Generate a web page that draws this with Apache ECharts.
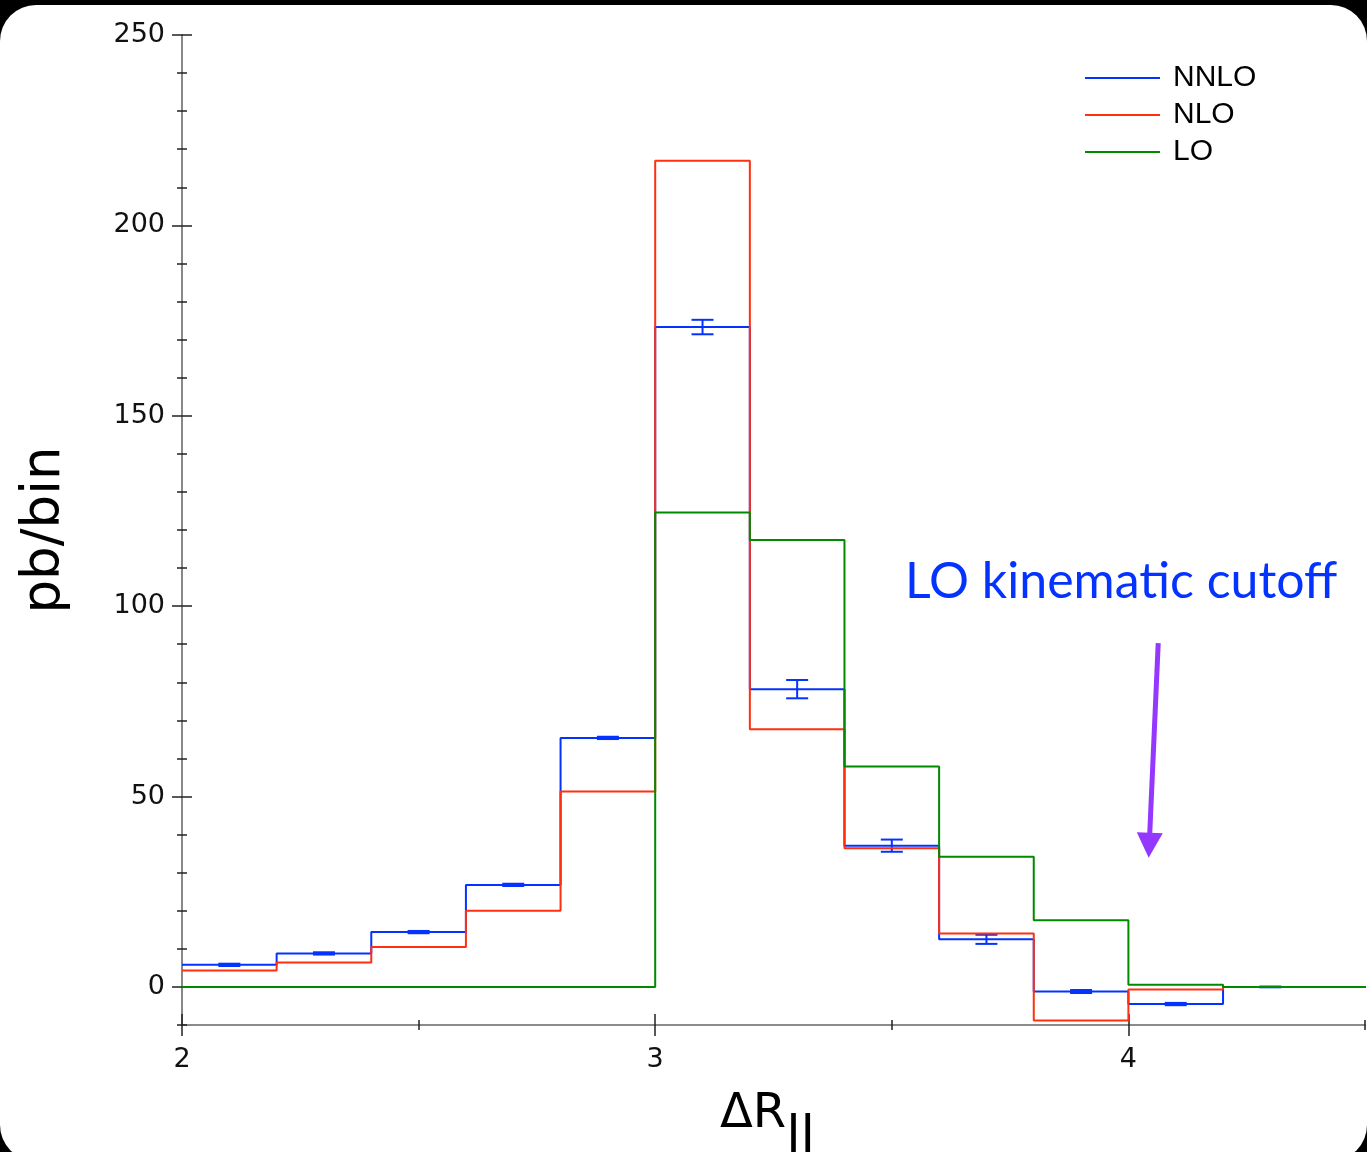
<!DOCTYPE html>
<html>
<head>
<meta charset="utf-8">
<title>ΔR_ll</title>
<script src="https://cdn.jsdelivr.net/npm/echarts@6/dist/echarts.min.js"></script>
<style>
html, body { margin: 0; padding: 0; background: #000; }
#card { position: absolute; left: 0; top: 5px; width: 1367px; height: 1156px; background: #fff; border-radius: 36px; }
#main { position: absolute; left: 0; top: 0; width: 1367px; height: 1152px; }
</style>
</head>
<body>
<div id="card"></div>
<div id="main"></div>
<script>
// bin edges (13 bins of width 0.2, last one runs past the axis end)
var binEdges = [2.0, 2.2, 2.4, 2.6, 2.8, 3.0, 3.2, 3.4, 3.6, 3.8, 4.0, 4.2, 4.4, 4.6];
var nnlo    = [5.8, 8.8, 14.4, 26.8, 65.4, 173.3, 78.2, 37.1, 12.5, -1.2, -4.5, 0, 0];
var nnloErr = [0.3, 0.3, 0.3, 0.3, 0.3, 1.9, 2.4, 1.6, 1.2, 0.4, 0.3, 0.1, 0];
var nlo     = [4.3, 6.4, 10.5, 20.0, 51.3, 217.0, 67.7, 36.4, 14.0, -8.8, -0.7, 0, 0];
var lo      = [0, 0, 0, 0, 0, 124.6, 117.4, 57.9, 34.2, 17.5, 0.6, 0, 0];

var xMajor = [2, 3, 4];
var xMinor = [2.5, 3.5, 4.5];
var yMajor = [0, 50, 100, 150, 200, 250];

// arrow annotation end points, in data units
var arrowFrom = [4.063, 90.3];
var arrowTo   = [4.044, 37.2];

function stepData(vals) {
    return binEdges.map(function (x, i) {
        return [x, i < vals.length ? vals[i] : vals[vals.length - 1]];
    });
}

var errData = [];
nnlo.forEach(function (v, i) {
    if (nnloErr[i] > 0) errData.push([(binEdges[i] + binEdges[i + 1]) / 2, v, nnloErr[i]]);
});

var BLUE = '#0433ff', RED = '#ff2f0f', GREEN = '#008a00';
var tickStyle = { color: '#222', width: 1.5 };

var myChart = echarts.init(document.getElementById('main'), null, { renderer: 'canvas' });
var option = {
    backgroundColor: 'transparent',
    animation: false,
    grid: { left: 182, right: 2, top: 35, bottom: 127, containLabel: false, outerBoundsMode: 'none' },
    legend: {
        data: ['NNLO', 'NLO', 'LO'],
        orient: 'vertical',
        left: 1080,
        top: 58,
        icon: 'rect',
        itemWidth: 75,
        itemHeight: 2,
        itemGap: 7,
        selectedMode: false,
        textStyle: { fontSize: 30, fontFamily: 'Liberation Sans', color: '#000', lineHeight: 30, padding: [0, 0, 0, 8] }
    },
    xAxis: [
        {
            type: 'value', min: 2, max: 4.5, position: 'bottom',
            axisLine: { show: true, onZero: false, lineStyle: { color: '#666', width: 1.5 } },
            axisTick: { show: false },
            splitLine: { show: false },
            axisLabel: { customValues: xMajor, fontSize: 27, fontFamily: 'DejaVu Sans', color: '#111', margin: 21 },
            name: '{d|ΔR}{s|ll}',
            nameLocation: 'middle',
            nameGap: 66,
            nameTextStyle: {
                padding: [0, 12, 0, 0],
                rich: {
                    d: { fontSize: 48, fontFamily: 'DejaVu Sans', color: '#000', lineHeight: 52, verticalAlign: 'top' },
                    s: { fontSize: 52, fontFamily: 'DejaVu Sans', color: '#000', lineHeight: 52, verticalAlign: 'top', padding: [21, 0, 0, 0] }
                }
            }
        },
        {
            type: 'value', min: 2, max: 4.5, position: 'bottom', offset: -11,
            axisLine: { show: false, onZero: false }, splitLine: { show: false }, axisLabel: { show: false },
            axisTick: { show: true, customValues: xMajor, length: 22, lineStyle: tickStyle }
        },
        {
            type: 'value', min: 2, max: 4.5, position: 'bottom', offset: -5,
            axisLine: { show: false, onZero: false }, splitLine: { show: false }, axisLabel: { show: false },
            axisTick: { show: true, customValues: xMinor, length: 10, lineStyle: tickStyle }
        }
    ],
    yAxis: [
        {
            type: 'value', min: -10, max: 250, position: 'left',
            axisLine: { show: true, onZero: false, lineStyle: { color: '#888', width: 2 } },
            axisTick: { show: false },
            splitLine: { show: false },
            axisLabel: { customValues: yMajor, fontSize: 27, fontFamily: 'DejaVu Sans', color: '#111', margin: 17 },
            name: 'pb/bin',
            nameLocation: 'middle',
            nameGap: 110,
            nameTextStyle: { fontSize: 53, fontFamily: 'DejaVu Sans', color: '#000' }
        },
        {
            type: 'value', min: -10, max: 250, position: 'left', offset: -10,
            axisLine: { show: false, onZero: false }, splitLine: { show: false }, axisLabel: { show: false },
            axisTick: { show: true, customValues: yMajor, length: 20, lineStyle: tickStyle }
        },
        {
            type: 'value', min: -10, max: 250, interval: 10, position: 'left', offset: -5,
            axisLine: { show: false, onZero: false }, splitLine: { show: false }, axisLabel: { show: false },
            axisTick: { show: true, length: 10, lineStyle: tickStyle }
        }
    ],
    graphic: [
        {
            type: 'text', left: 905, top: 557,
            style: { text: 'LO kinematic cutoff', font: '50px Lato', fill: BLUE }
        }
    ],
    series: [
        {
            name: 'NNLO', type: 'line', step: 'end', symbol: 'none',
            color: BLUE, lineStyle: { width: 2, color: BLUE },
            data: stepData(nnlo)
        },
        {
            name: 'NLO', type: 'line', step: 'end', symbol: 'none',
            color: RED, lineStyle: { width: 2, color: RED },
            data: stepData(nlo)
        },
        {
            name: 'LO', type: 'line', step: 'end', symbol: 'none',
            color: GREEN, lineStyle: { width: 2, color: GREEN },
            data: stepData(lo),
            markLine: {
                silent: true,
                symbol: ['none', 'triangle'],
                symbolSize: [26, 25],
                label: { show: false },
                lineStyle: { color: '#9437ff', width: 5, type: 'solid' },
                data: [[{ coord: arrowFrom }, { coord: arrowTo }]]
            }
        },
        {
            name: 'NNLO err', type: 'custom',
            data: errData,
            renderItem: function (params, api) {
                var x = api.value(0), y = api.value(1), e = api.value(2);
                var hi = api.coord([x, y + e]);
                var low = api.coord([x, y - e]);
                var w = 11;
                var st = { stroke: BLUE, lineWidth: 2 };
                return {
                    type: 'group',
                    children: [
                        { type: 'line', shape: { x1: hi[0], y1: hi[1], x2: low[0], y2: low[1] }, style: st },
                        { type: 'line', shape: { x1: hi[0] - w, y1: hi[1], x2: hi[0] + w, y2: hi[1] }, style: st },
                        { type: 'line', shape: { x1: low[0] - w, y1: low[1], x2: low[0] + w, y2: low[1] }, style: st }
                    ]
                };
            }
        }
    ]
};
myChart.setOption(option);
</script>
</body>
</html>
